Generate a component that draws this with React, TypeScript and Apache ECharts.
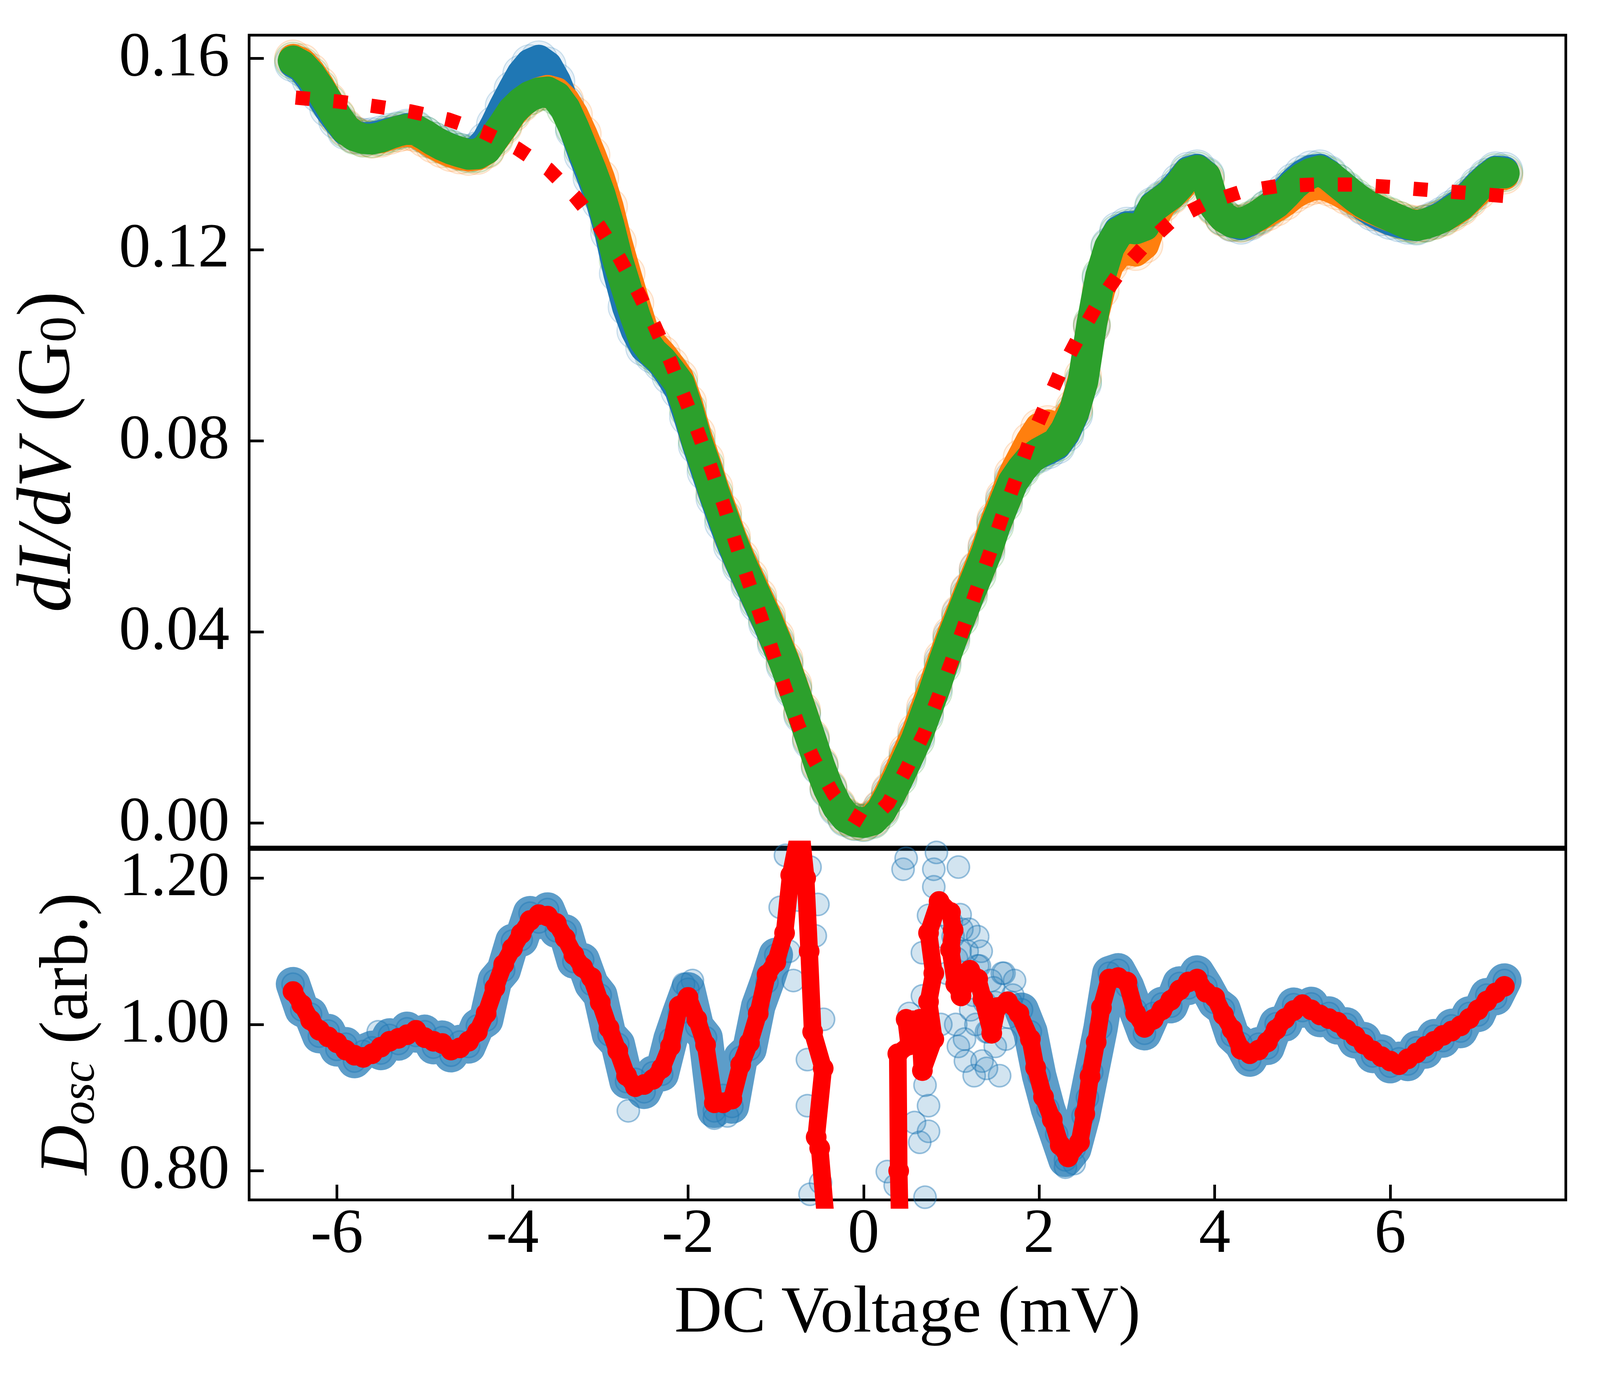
import React, { useEffect, useRef } from "react";
import * as echarts from "echarts";

const FONT = "'Liberation Serif', 'DejaVu Serif', serif";

// voltage sampling positions (0.1 mV step)
const voltGrid = (start: number, n: number) =>
  Array.from({ length: n }, (_, i) => Math.round((start + i * 0.1) * 100) / 100);

const xTicks = [-6, -4, -2, 0, 2, 4, 6];
const dIdVTicks = [0, 0.04, 0.08, 0.12, 0.16];
const oscTicks = [0.8, 1.0, 1.2];

// ---- top panel: dI/dV (G0), three measurements, V from -6.5 to 7.3 mV ----
const dIdVBlue = [
  0.1590, 0.1580, 0.1555, 0.1525, 0.1495, 0.1470, 0.1448, 0.1440, 0.1436, 0.1437,
  0.1441, 0.1446, 0.1450, 0.1455, 0.1452, 0.1440, 0.1428, 0.1420, 0.1412, 0.1405,
  0.1402, 0.1408, 0.1428, 0.1462, 0.1500, 0.1535, 0.1568, 0.1590, 0.1598, 0.1585,
  0.1552, 0.1505, 0.1450, 0.1398, 0.1350, 0.1300, 0.1235, 0.1150, 0.1080, 0.1030,
  0.0995, 0.0980, 0.0962, 0.0935, 0.0905, 0.0850, 0.0790, 0.0735, 0.0680, 0.0628,
  0.0580, 0.0538, 0.0498, 0.0458, 0.0418, 0.0375, 0.0330, 0.0278, 0.0226, 0.0172,
  0.0118, 0.0070, 0.0032, 0.0010, 0.0002, 0.0000, 0.0008, 0.0030, 0.0065, 0.0102,
  0.0142, 0.0183, 0.0232, 0.0283, 0.0338, 0.0390, 0.0437, 0.0485, 0.0530, 0.0576,
  0.0630, 0.0676, 0.0720, 0.0745, 0.0765, 0.0772, 0.0780, 0.0790, 0.0815, 0.0855,
  0.0920, 0.1040, 0.1140, 0.1208, 0.1240, 0.1250, 0.1250, 0.1258, 0.1292, 0.1305,
  0.1320, 0.1342, 0.1365, 0.1370, 0.1355, 0.1292, 0.1268, 0.1255, 0.1250, 0.1258,
  0.1270, 0.1286, 0.1302, 0.1322, 0.1342, 0.1358, 0.1368, 0.1370, 0.1358, 0.1340,
  0.1322, 0.1305, 0.1290, 0.1278, 0.1268, 0.1260, 0.1255, 0.1250, 0.1248, 0.1255,
  0.1263, 0.1272, 0.1285, 0.1298, 0.1315, 0.1335, 0.1352, 0.1366, 0.1365,
];
const dIdVOrange = [
  0.1600, 0.1592, 0.1572, 0.1545, 0.1512, 0.1480, 0.1455, 0.1440, 0.1433, 0.1430,
  0.1432, 0.1438, 0.1443, 0.1446, 0.1443, 0.1432, 0.1420, 0.1410, 0.1402, 0.1397,
  0.1394, 0.1396, 0.1408, 0.1432, 0.1458, 0.1485, 0.1505, 0.1520, 0.1530, 0.1535,
  0.1530, 0.1512, 0.1482, 0.1442, 0.1398, 0.1350, 0.1290, 0.1215, 0.1150, 0.1088,
  0.1030, 0.1002, 0.0982, 0.0958, 0.0932, 0.0880, 0.0815, 0.0760, 0.0702, 0.0652,
  0.0600, 0.0555, 0.0515, 0.0475, 0.0435, 0.0390, 0.0343, 0.0290, 0.0236, 0.0180,
  0.0124, 0.0075, 0.0038, 0.0014, 0.0004, 0.0002, 0.0010, 0.0032, 0.0068, 0.0108,
  0.0150, 0.0192, 0.0242, 0.0292, 0.0345, 0.0395, 0.0440, 0.0487, 0.0532, 0.0580,
  0.0635, 0.0682, 0.0730, 0.0765, 0.0800, 0.0828, 0.0835, 0.0825, 0.0840, 0.0870,
  0.0935, 0.1040, 0.1115, 0.1168, 0.1192, 0.1198, 0.1195, 0.1210, 0.1262, 0.1295,
  0.1312, 0.1328, 0.1352, 0.1360, 0.1345, 0.1288, 0.1266, 0.1256, 0.1254, 0.1260,
  0.1268, 0.1278, 0.1288, 0.1300, 0.1315, 0.1325, 0.1332, 0.1335, 0.1330, 0.1322,
  0.1312, 0.1302, 0.1292, 0.1283, 0.1275, 0.1268, 0.1262, 0.1256, 0.1253, 0.1255,
  0.1260, 0.1266, 0.1276, 0.1288, 0.1305, 0.1322, 0.1340, 0.1355, 0.1355,
];
const dIdVGreen = [
  0.1595, 0.1585, 0.1565, 0.1538, 0.1508, 0.1478, 0.1452, 0.1438, 0.1432, 0.1431,
  0.1435, 0.1442, 0.1448, 0.1452, 0.1450, 0.1440, 0.1428, 0.1418, 0.1410, 0.1404,
  0.1399, 0.1400, 0.1410, 0.1436, 0.1462, 0.1490, 0.1508, 0.1521, 0.1528, 0.1530,
  0.1520, 0.1495, 0.1455, 0.1410, 0.1365, 0.1315, 0.1252, 0.1178, 0.1118, 0.1060,
  0.1010, 0.0985, 0.0968, 0.0945, 0.0920, 0.0865, 0.0800, 0.0748, 0.0690, 0.0640,
  0.0590, 0.0545, 0.0505, 0.0465, 0.0425, 0.0381, 0.0335, 0.0283, 0.0230, 0.0176,
  0.0120, 0.0072, 0.0035, 0.0012, 0.0003, 0.0001, 0.0006, 0.0025, 0.0058, 0.0095,
  0.0135, 0.0175, 0.0225, 0.0275, 0.0330, 0.0382, 0.0428, 0.0475, 0.0520, 0.0566,
  0.0622, 0.0668, 0.0713, 0.0740, 0.0762, 0.0775, 0.0785, 0.0795, 0.0822, 0.0862,
  0.0925, 0.1045, 0.1145, 0.1205, 0.1235, 0.1245, 0.1243, 0.1250, 0.1288, 0.1302,
  0.1315, 0.1335, 0.1360, 0.1366, 0.1352, 0.1290, 0.1268, 0.1257, 0.1255, 0.1262,
  0.1272, 0.1285, 0.1297, 0.1315, 0.1335, 0.1350, 0.1360, 0.1365, 0.1355, 0.1340,
  0.1325, 0.1310, 0.1297, 0.1287, 0.1278, 0.1270, 0.1262, 0.1254, 0.1250, 0.1254,
  0.1260, 0.1268, 0.1280, 0.1292, 0.1310, 0.1330, 0.1348, 0.1362, 0.1360,
];

// fitted curve (red dotted)
const fitV = [
  -6.47, -6.0, -5.57, -5.16, -4.73, -4.34, -3.95, -3.59, -3.29, -3.01, -2.78, -2.57, -2.38, -2.2,
  -2.04, -1.88, -1.73, -1.59, -1.46, -1.32, -1.17, -1.03, -0.89, -0.74, -0.56, -0.34, -0.17, 0.0,
  0.14, 0.28, 0.49, 0.69, 0.85, 1.0, 1.15, 1.29, 1.44, 1.58, 1.73, 1.88, 2.06, 2.24, 2.44, 2.66,
  2.9, 3.19, 3.51, 3.9, 4.3, 4.72, 5.14, 5.57, 6.0, 6.42, 6.84, 7.3,
];
const fitG = [
  0.1518, 0.1510, 0.1500, 0.1489, 0.1472, 0.1447, 0.1412, 0.1368, 0.1312, 0.1249, 0.1182, 0.1111, 0.1040, 0.0966,
  0.0891, 0.0815, 0.0739, 0.0664, 0.0588, 0.0510, 0.0432, 0.0355, 0.0280, 0.0203, 0.0131, 0.0060, 0.0022, 0.0003,
  0.0016, 0.0042, 0.0114, 0.0188, 0.0263, 0.0337, 0.0415, 0.0489, 0.0566, 0.0642, 0.0717, 0.0793, 0.0868, 0.0943,
  0.1013, 0.1084, 0.1148, 0.1206, 0.1260, 0.1297, 0.1321, 0.1333, 0.1336, 0.1336, 0.1331, 0.1325, 0.1319, 0.1312,
];

// ---- bottom panel: D_osc (arb.) ----
// red curve, V -6.5 .. -1.0
const oscRedLeft = [
  1.045, 1.027, 1.006, 0.992, 0.983, 0.975, 0.965, 0.958, 0.955, 0.960,
  0.969, 0.977, 0.981, 0.986, 0.992, 0.982, 0.977, 0.974, 0.965, 0.968,
  0.977, 0.990, 1.015, 1.050, 1.082, 1.104, 1.124, 1.142, 1.150, 1.148,
  1.138, 1.118, 1.095, 1.078, 1.064, 1.030, 0.995, 0.964, 0.930, 0.915,
  0.918, 0.925, 0.940, 0.970, 1.025, 1.037, 1.007, 0.972, 0.893, 0.893,
  0.898, 0.945, 0.975, 1.015, 1.068, 1.085,
];
// red curve, central region (irregular voltages)
const oscRedMidV = [
  -0.9, -0.83, -0.72, -0.66, -0.62, -0.58, -0.46, -0.54, -0.5, -0.4, -0.2, 0.2, 0.42, 0.4, 0.39,
  0.52, 0.485, 0.64, 0.67, 0.8, 0.74, 0.8, 0.74, 0.86, 0.99, 1.02, 0.99, 1.05, 1.11, 1.21, 1.3,
  1.36, 1.46, 1.52, 1.64, 1.77, 1.9, 1.96, 2.05, 2.15, 2.24, 2.33, 2.46, 2.52, 2.58, 2.65, 2.71, 2.8,
];
const oscRedMidD = [
  1.125, 1.204, 1.27, 1.2, 1.1, 0.99, 0.94, 0.846, 0.831, 0.69, 0.45, 0.45, 0.69, 0.8, 0.96,
  0.972, 1.007, 1.007, 0.937, 0.98, 1.031, 1.07, 1.125, 1.168, 1.153, 1.129, 1.102, 1.055, 1.039, 1.074, 1.062,
  1.035, 0.988, 1.023, 1.031, 1.015, 0.98, 0.941, 0.901, 0.87, 0.835, 0.819, 0.839, 0.878, 0.929, 0.976, 1.023, 1.062,
];
// red curve, V 2.9 .. 7.3
const oscRedRight = [
  1.064, 1.058, 1.015, 0.996, 1.007, 1.020, 1.033, 1.047, 1.058, 1.062,
  1.044, 1.037, 1.013, 0.993, 0.966, 0.960, 0.965, 0.976, 0.993, 1.008,
  1.019, 1.027, 1.020, 1.013, 1.008, 1.003, 0.993, 0.984, 0.973, 0.964,
  0.956, 0.950, 0.945, 0.953, 0.961, 0.970, 0.977, 0.985, 0.991, 0.998,
  1.008, 1.020, 1.032, 1.043, 1.052,
];
// blue points, V -6.5 .. -1.0
const oscBlueLeft = [
  1.055, 1.020, 1.014, 0.984, 0.991, 0.966, 0.973, 0.950, 0.963, 0.968,
  0.961, 0.985, 0.974, 0.994, 0.985, 0.990, 0.969, 0.982, 0.958, 0.976,
  0.970, 0.998, 1.006, 1.060, 1.074, 1.114, 1.116, 1.152, 1.140, 1.157,
  1.128, 1.127, 1.086, 1.088, 1.055, 1.040, 0.986, 0.973, 0.922, 0.925,
  0.908, 0.934, 0.932, 0.980, 1.015, 1.048, 0.997, 0.982, 0.882, 0.903,
  0.888, 0.955, 0.966, 1.025, 1.058, 1.095,
];
// blue points, V 1.0 .. 7.3
const oscBlueRight = [
  1.14, 1.10, 1.13, 1.08, 0.99, 1.03, 1.07, 1.04, 1.02, 0.99,
  0.93, 0.885, 0.85, 0.815, 0.83, 0.875, 0.935, 0.995, 1.07,
  1.074, 1.052, 1.020, 0.988, 1.015, 1.028, 1.025, 1.056, 1.050, 1.071,
  1.052, 1.030, 1.021, 0.985, 0.974, 0.952, 0.973, 0.968, 1.001, 1.000,
  1.027, 1.019, 1.028, 1.006, 1.015, 0.996, 1.000, 0.977, 0.980, 0.957,
  0.963, 0.943, 0.953, 0.946, 0.968, 0.963, 0.984, 0.978, 0.998, 0.991,
  1.015, 1.013, 1.040, 1.036, 1.060,
];
// scattered blue points near zero bias and in noisy regions
const oscBlueExtraV = [
  -0.95, -0.89, -0.85, -0.8, -0.75, -0.61, -0.52, -0.55, -0.456, -0.64, -0.64, -0.49, -0.61,
  0.485, 0.45, 0.8, 1.08, 0.8, 0.83, 0.74, 0.67, 0.67, 0.52, 0.7, 0.74, 0.58, 0.74, 0.64,
  0.27, 0.36, 0.7, 0.9, 0.95, 0.88, 1.05, 1.15, 1.25, 1.35, 1.45, 1.55, 1.65, 1.2, 1.1, 1.3, 1.5,
  -5.53, -2.68, -1.7, -1.55, -1.95, -2.05, 2.3, 2.4, 2.55,
  1.02, 1.06, 1.12, 1.18, 1.22, 1.28, 1.32, 1.38, 1.42, 1.48, 1.58, 1.62, 1.68, 1.72, 1.08, 1.16,
  1.26, 1.4, 1.34,
];
const oscBlueExtraD = [
  1.16, 1.231, 1.10, 1.06, 1.17, 1.215, 1.164, 1.121, 1.007, 0.952, 0.889, 0.784, 0.768,
  1.227, 1.212, 1.212, 1.215, 1.188, 1.235, 1.149, 1.098, 1.039, 1.015, 0.917, 0.889, 0.866, 0.854, 0.839,
  0.799, 0.78, 0.764, 1.12, 1.07, 1.0, 1.0, 0.98, 1.04, 0.95, 1.06, 0.93, 1.01, 1.06, 1.15, 1.12, 0.97,
  0.99, 0.882, 0.872, 0.875, 1.06, 1.055, 0.805, 0.81, 0.9,
  1.12, 1.09, 1.13, 1.10, 1.02, 1.0, 1.08, 1.03, 0.99, 1.05, 1.07, 0.98, 1.03, 1.06, 0.97, 0.95,
  0.93, 0.94, 1.10,
];

const zip = (xs: number[], ys: number[]) => ys.map((y, i) => [xs[i], y]);

export default function App() {
  const ref = useRef<HTMLDivElement>(null);

  useEffect(() => {
    const el = ref.current;
    if (!el) return;
    const W = el.clientWidth || 4258;
    const H = el.clientHeight || 3514;
    const sx = W / 4258;
    const sy = H / 3514;
    const sf = Math.sqrt(sx * sy);
    const X = (p: number) => p * sx;
    const Y = (p: number) => p * sy;
    const F = (p: number) => p * sf;

    const chart = echarts.init(el, undefined, { renderer: "svg", width: W, height: H });

    const vTop = voltGrid(-6.5, 139);
    const blue = zip(vTop, dIdVBlue);
    const orange = zip(vTop, dIdVOrange);
    const green = zip(vTop, dIdVGreen);
    const fit = zip(fitV, fitG);

    const redData = [
      ...zip(voltGrid(-6.5, oscRedLeft.length), oscRedLeft),
      ...zip(oscRedMidV, oscRedMidD),
      ...zip(voltGrid(2.9, oscRedRight.length), oscRedRight),
    ];
    const blueLeftPts = zip(voltGrid(-6.5, oscBlueLeft.length), oscBlueLeft);
    const blueRightPts = zip(voltGrid(1.0, oscBlueRight.length), oscBlueRight);
    const blueOsc = [...blueLeftPts, ...blueRightPts, ...zip(oscBlueExtraV, oscBlueExtraD)];

    const tickX = { show: true, inside: true, length: Y(39), lineStyle: { color: "#000", width: F(7) } };
    const tickY = { show: true, inside: true, length: X(39), lineStyle: { color: "#000", width: F(7) } };
    const labelBase = { color: "#000", fontFamily: FONT, fontSize: F(165) };

    const band = (data: number[][], color: string, rgb: string, width: number) => [
      {
        type: "line",
        xAxisIndex: 0,
        yAxisIndex: 0,
        data,
        symbol: "none",
        silent: true,
        lineStyle: { color, width: F(width), cap: "round", join: "round" },
      },
      {
        type: "scatter",
        xAxisIndex: 0,
        yAxisIndex: 0,
        data,
        symbol: "circle",
        symbolSize: F(96),
        silent: true,
        itemStyle: { color: `rgba(${rgb},0.12)`, borderColor: `rgba(${rgb},0.25)`, borderWidth: F(3) },
      },
    ];
    const blueHalo = (data: number[][]) => ({
      type: "line",
      xAxisIndex: 1,
      yAxisIndex: 1,
      data,
      symbol: "none",
      silent: true,
      lineStyle: { color: "rgba(31,119,180,0.72)", width: F(90), cap: "round", join: "round" },
    });

    const gridBase = {
      left: X(663), width: X(3504), show: true, borderColor: "#000", borderWidth: F(7),
      backgroundColor: "transparent", containLabel: false, outerBoundsMode: "none",
    };
    const yLabel = { ...labelBase, lineHeight: F(22), verticalAlign: "bottom", margin: X(52) };

    chart.setOption({
      animation: false,
      backgroundColor: "#fff",
      grid: [
        { ...gridBase, top: Y(90), height: Y(2078) },
        { ...gridBase, top: Y(2174), height: Y(897) },
      ],
      xAxis: [
        {
          type: "value", gridIndex: 0, min: -7, max: 8,
          axisLine: { show: false, onZero: false }, axisTick: { show: false }, axisLabel: { show: false }, splitLine: { show: false },
        },
        {
          type: "value", gridIndex: 1, min: -7, max: 8,
          axisLine: { show: false, onZero: false },
          axisTick: { ...tickX, customValues: xTicks },
          axisLabel: { ...labelBase, lineHeight: F(130), margin: Y(15), customValues: xTicks, formatter: (v: number) => String(v) },
          splitLine: { show: false },
          name: "DC Voltage (mV)",
          nameLocation: "middle",
          nameGap: Y(192),
          nameMoveOverlap: false,
          nameTextStyle: { color: "#000", fontFamily: FONT, fontSize: F(172), lineHeight: F(180) },
        },
      ],
      yAxis: [
        {
          type: "value", gridIndex: 0, min: -0.00501, max: 0.16486,
          axisLine: { show: false, onZero: false },
          axisTick: { ...tickY, customValues: dIdVTicks },
          axisLabel: { ...yLabel, customValues: dIdVTicks, formatter: (v: number) => v.toFixed(2) },
          splitLine: { show: false },
          name: "{i|dI/dV} (G{s|0}{p|)}",
          nameLocation: "middle",
          nameGap: X(440),
          nameRotate: 90,
          nameMoveOverlap: false,
          nameTextStyle: {
            color: "#000", fontFamily: FONT, fontSize: F(196), lineHeight: F(210),
            rich: {
              i: { color: "#000", fontFamily: FONT, fontStyle: "italic", fontSize: F(202), lineHeight: F(210) },
              s: { color: "#000", fontFamily: FONT, fontSize: F(136), lineHeight: F(115), verticalAlign: "bottom" },
              p: { color: "#000", fontFamily: FONT, fontSize: F(196), lineHeight: F(210), padding: [0, F(56), 0, 0] },
            },
          },
        },
        {
          type: "value", gridIndex: 1, min: 0.7603, max: 1.2391,
          axisLine: { show: false, onZero: false },
          axisTick: { ...tickY, customValues: oscTicks },
          axisLabel: { ...yLabel, customValues: oscTicks, formatter: (v: number) => v.toFixed(2) },
          splitLine: { show: false },
          name: "{i|D}{si|osc} (arb.{p|)}",
          nameLocation: "middle",
          nameGap: X(392),
          nameRotate: 90,
          nameMoveOverlap: false,
          nameTextStyle: {
            color: "#000", fontFamily: FONT, fontSize: F(180), lineHeight: F(200),
            rich: {
              i: { color: "#000", fontFamily: FONT, fontStyle: "italic", fontSize: F(180), lineHeight: F(200) },
              si: { color: "#000", fontFamily: FONT, fontStyle: "italic", fontSize: F(125), lineHeight: F(110), verticalAlign: "bottom" },
              p: { color: "#000", fontFamily: FONT, fontSize: F(180), lineHeight: F(200), padding: [0, F(48), 0, 0] },
            },
          },
        },
      ],
      series: [
        ...band(blue, "#1f77b4", "31,119,180", 76),
        ...band(orange, "#ff7f0e", "255,127,14", 76),
        ...band(green, "#2ca02c", "44,160,44", 80),
        {
          type: "line",
          xAxisIndex: 0,
          yAxisIndex: 0,
          data: fit,
          symbol: "none",
          silent: true,
          lineStyle: { color: "#ff0000", width: F(37), type: [F(37), F(62)], cap: "butt", join: "miter" },
        },
        blueHalo(blueLeftPts),
        blueHalo(blueRightPts.slice(8)),
        {
          type: "scatter",
          xAxisIndex: 1,
          yAxisIndex: 1,
          data: blueOsc,
          symbol: "circle",
          symbolSize: F(58),
          silent: true,
          itemStyle: { color: "rgba(31,119,180,0.25)", borderColor: "rgba(31,119,180,0.55)", borderWidth: F(4) },
        },
        {
          type: "line",
          xAxisIndex: 1,
          yAxisIndex: 1,
          data: redData,
          symbol: "circle",
          symbolSize: F(54),
          showSymbol: true,
          silent: true,
          clip: true,
          itemStyle: { color: "#ff0000", borderWidth: 0 },
          lineStyle: { color: "#ff0000", width: F(46), join: "round" },
        },
      ],
    });

    return () => chart.dispose();
  }, []);

  return (
    <div
      ref={ref}
      style={{ position: "fixed", left: 0, top: 0, width: "100vw", height: "100vh", background: "#fff", overflow: "hidden" }}
    />
  );
}
